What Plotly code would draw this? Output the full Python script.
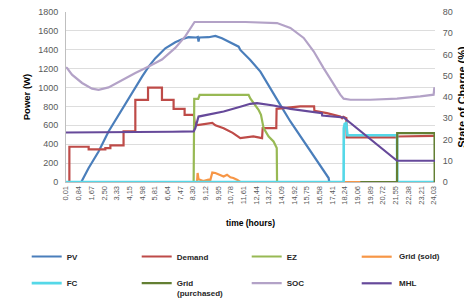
import plotly.graph_objects as go

# ---------------- data (hours, value) ----------------
pv_h = [0.01, 1.01, 1.49, 2.14, 2.79, 3.45, 4.10, 4.65, 4.98, 5.41, 5.85, 6.50, 7.15, 7.59, 8.02, 8.52, 8.62, 8.67, 8.72,
        9.33, 9.77, 10.20, 10.86, 11.29, 11.40, 11.73, 12.05, 12.71, 13.25, 13.36, 14.01, 14.67, 15.54, 15.97, 16.63,
        17.17, 17.21, 24.12]
pv_v = [0, 0, 148, 323, 535, 711, 888, 1029, 1116, 1222, 1311, 1416, 1480, 1512, 1533, 1530, 1535, 1487, 1530,
        1533, 1547, 1522, 1469, 1433, 1398, 1346, 1292, 1169, 1029, 994, 817, 641, 429, 323, 175,
        42, 0, 0]

dem_h = [0.01, 0.23, 0.23, 1.49, 1.49, 2.58, 2.58, 2.91, 2.91, 3.77, 3.77, 4.54, 4.54, 5.37, 5.37, 6.28, 6.28,
         7.04, 7.04, 7.76, 7.76, 8.36, 8.40, 8.46, 8.70, 9.20, 9.57, 9.77, 10.31, 10.90, 11.40, 12.25, 12.82, 12.86,
         13.75, 13.77, 14.67, 15.32, 16.22, 16.24, 17.06, 17.93, 18.05, 18.13, 18.33, 18.35, 21.64, 21.66, 24.03, 24.12]
dem_v = [0, 0, 373, 373, 345, 345, 359, 359, 387, 387, 535, 535, 870, 870, 1000, 1000, 870,
         870, 775, 775, 711, 711, 650, 600, 605, 615, 625, 600, 570, 520, 465, 482, 465, 570,
         570, 775, 790, 800, 800, 754, 730, 694, 675, 690, 675, 472, 472, 482, 489, 489]

ez_h = [0.01, 8.35, 8.39, 8.65, 8.74, 11.94, 12.05, 12.27, 12.59, 12.75, 12.82, 12.92, 13.25, 13.57, 13.78, 13.80, 24.12]
ez_v = [0, 0, 880, 880, 923, 923, 885, 835, 764, 711, 640, 570, 482, 429, 359, 0, 0]

sold_h = [0.01, 8.57, 8.61, 8.67, 8.98, 9.31, 9.44, 9.57, 9.77, 9.96, 10.16, 10.31, 10.53, 10.75, 10.94, 11.18,
          11.40, 24.12]
sold_v = [0, 0, 95, 30, 10, 25, 20, 100, 95, 80, 70, 59, 77, 50, 42, 25, 0, 0]

fc_h = [0.01, 18.15, 18.16, 18.22, 18.32, 18.37, 18.40, 21.64, 21.65, 24.12]
fc_v = [0, 0, 570, 615, 624, 520, 495, 495, 0, 0]

buy_h = [19.24, 21.64, 21.65, 24.09, 24.10]
buy_v = [0, 0, 518, 518, 0]

soc_h = [0.01, 0.08, 0.40, 1.06, 1.71, 2.14, 2.79, 3.67, 4.54, 5.41, 6.28, 7.15, 7.80, 8.41, 11.73, 13.80,
         14.67, 15.54, 16.19, 16.84, 17.39, 17.72, 17.93, 18.15, 18.59, 19.89, 21.64, 23.16, 24.03, 24.08, 24.12]
soc_v = [54.0, 53.6, 50.5, 46.6, 43.9, 43.4, 44.5, 48.1, 51.3, 54.4, 57.6, 63.1, 68.5, 75.3, 75.3, 74.8,
         72.5, 67.8, 61.5, 53.6, 47.3, 43.4, 41.1, 39.2, 38.7, 38.7, 39.2, 40.3, 41.1, 44.5, 41.5]

mhl_h = [0.01, 6.94, 6.95, 8.35, 8.46, 8.67, 10.31, 11.40, 12.05, 12.49, 13.57, 14.67, 15.97, 16.73, 16.75, 18.15,
         21.64, 24.12]
mhl_v = [524, 524, 532, 535, 571, 693, 746, 797, 828, 835, 810, 775, 746, 728, 704, 683,
         225, 225]

tick_vals = [0.01, 0.84, 1.67, 2.50, 3.33, 4.15, 4.98, 5.81, 6.64, 7.47, 8.30, 9.12, 9.95, 10.78, 11.61, 12.44,
             13.27, 14.09, 14.92, 15.75, 16.58, 17.41, 18.24, 19.06, 19.89, 20.72, 21.55, 22.38, 23.21, 24.03]
tick_text = [f"{v:.2f}".replace(".", ",") for v in tick_vals]

FONT = "Liberation Sans"
GRAY = "#595959"
LEG_TXT = "#262626"

# (name, x, y, colour, axis, legend column; None = drawn as a manual legend entry)
series = [
    ("PV", pv_h, pv_v, "#4A7EBB", "y", "legend"),
    ("Demand", dem_h, dem_v, "#BE4B48", "y", "legend2"),
    ("EZ", ez_h, ez_v, "#98B954", "y", "legend3"),
    ("Grid (sold)", sold_h, sold_v, "#F79646", "y", None),
    ("FC", fc_h, fc_v, "#55D8E8", "y", "legend"),
    ("Grid", buy_h, buy_v, "#637F33", "y", "legend2"),
    ("SOC", soc_h, soc_v, "#B3A2C7", "y2", "legend3"),
    ("MHL", mhl_h, mhl_v, "#66499A", "y", None),
]

fig = go.Figure()
for i, (name, xs, ys, col, ax, lg) in enumerate(series):
    kw = dict(legend=lg, legendgroup=f"g{i}") if lg else dict(showlegend=False)
    fig.add_trace(go.Scatter(x=xs, y=ys, name=f"<b>{name}</b>", mode="lines", yaxis=ax,
                             line=dict(color=col, width=2.2 if name != "FC" else 2.6), **kw))

# page body has an 8px offset: the figure is laid out shifted by 8px
W, H = 464, 290
ML, MR, MT, MB = 58, 4, 4, 116
GW = W - ML - MR          # paper width
PLOT_W = 369              # actual plot width
DOM = PLOT_W / GW
PH = H - MT - MB
PB = MT + PH  # plot bottom in figure px


def px_x(x):
    return (x - 8 - ML) / GW


def px_y(y):
    return (PB - (y - 8)) / PH


leg_common = dict(orientation="v", xref="paper", yref="paper", xanchor="left", yanchor="middle",
                  bgcolor="rgba(0,0,0,0)", traceorder="grouped",
                  font=dict(family=FONT, size=8, color=LEG_TXT),
                  itemwidth=30, tracegroupgap=7.6)

ROW1, ROW2 = 256.7, 283.3
row_mid = (ROW1 + ROW2) / 2

# manual entries for the fourth legend column
manual = [(series[3], ROW1), (series[7], ROW2)]
shapes = []
annotations = [dict(text="<b>(purchased)</b>", xref="paper", yref="paper", x=px_x(175), y=px_y(293.3),
                    xanchor="left", yanchor="middle", showarrow=False,
                    font=dict(family=FONT, size=8, color=LEG_TXT))]
for (name, _, _, col, _, _), row in manual:
    shapes.append(dict(type="line", xref="paper", yref="paper", x0=px_x(361.7), x1=px_x(391.7),
                       y0=px_y(row), y1=px_y(row), line=dict(color=col, width=2.2)))
    annotations.append(dict(text=f"<b>{name}</b>", xref="paper", yref="paper", x=px_x(396.7), y=px_y(row),
                            xanchor="left", yanchor="middle", showarrow=False,
                            font=dict(family=FONT, size=8, color=LEG_TXT)))

fig.update_layout(
    width=W, height=H,
    margin=dict(l=ML, r=MR, t=MT, b=MB, autoexpand=False),
    paper_bgcolor="white", plot_bgcolor="white",
    font=dict(family=FONT, size=9, color=GRAY),
    xaxis=dict(domain=[0, DOM], range=[0.01, 24.12], tickmode="array", tickvals=tick_vals, ticktext=tick_text,
               tickangle=-90, tickfont=dict(size=7.5, color=GRAY), showgrid=False, zeroline=False,
               showline=True, linecolor="#BFBFBF", ticks="",
               title=dict(text="<b>time (hours)</b>", font=dict(size=8.5, color="#000000"), standoff=16)),
    yaxis=dict(range=[0, 1800], dtick=200, showgrid=True, gridcolor="#DDDDDD", gridwidth=1, zeroline=False,
               showline=True, linecolor="#BFBFBF", ticks="outside", ticklen=5, tickcolor="rgba(0,0,0,0)",
               tickfont=dict(size=9, color=GRAY), ticklabeloverflow="allow",
               title=dict(text="<b>Power (W)</b>", font=dict(size=9.5, color="#000000"), standoff=5)),
    yaxis2=dict(range=[0, 80], dtick=10, overlaying="y", side="right", anchor="free", position=DOM,
                showgrid=False, zeroline=False,
                showline=False, ticks="outside", ticklen=5, tickcolor="rgba(0,0,0,0)",
                tickfont=dict(size=9, color=GRAY), ticklabeloverflow="allow",
                title=dict(text="<b>State of Charge (%)</b>", font=dict(size=11, color="#000000"), standoff=6)),
    legend=dict(x=px_x(26.7), y=px_y(row_mid), **leg_common),
    legend2=dict(x=px_x(136.7), y=px_y(row_mid), **leg_common),
    legend3=dict(x=px_x(246.7), y=px_y(row_mid), **leg_common),
    shapes=shapes,
    annotations=annotations,
    showlegend=True,
)

fig.write_html("out.html")
